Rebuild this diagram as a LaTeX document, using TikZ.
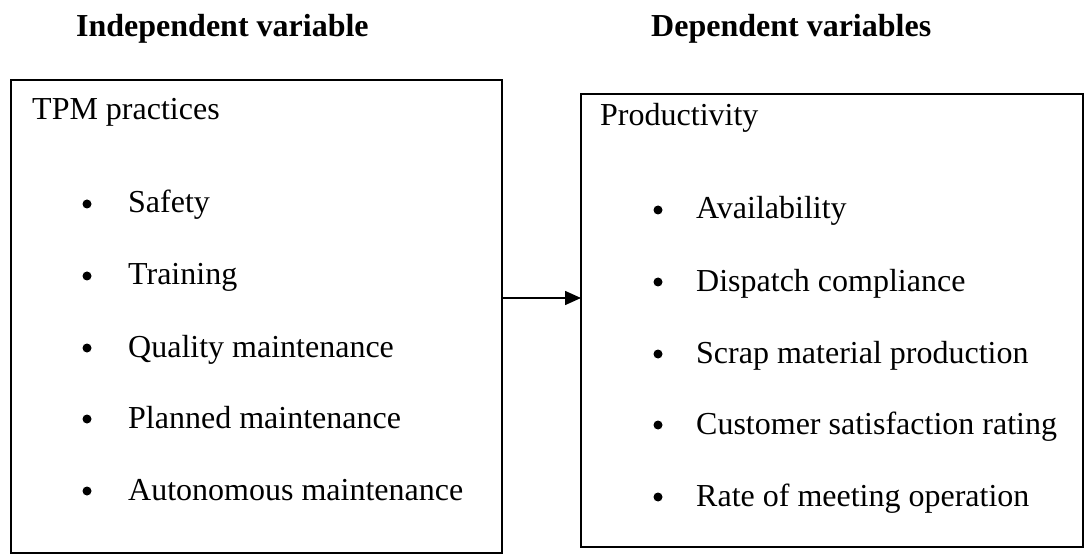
\documentclass[tikz,border=0pt]{standalone}
\usepackage{fontspec}
\setmainfont{Liberation Serif}
\usetikzlibrary{arrows.meta}
\begin{document}
\begin{tikzpicture}[x=1pt,y=-1pt,
  txt/.style={anchor=base west,inner sep=0pt,font=\fontsize{32}{38}\selectfont},
  head/.style={anchor=base west,inner sep=0pt,font=\fontsize{32}{38}\selectfont\bfseries},
  bul/.style={circle,fill=black,inner sep=0pt,minimum size=9pt},
  frame/.style={draw=black,line width=1.8pt}]
\useasboundingbox (0,0) rectangle (1085,556);
% headings
\node[head] (h1) at (76,37) {Independent variable};
\node[head] (h2) at (651,37) {Dependent variables};
% boxes
\draw[frame] (11,80) rectangle (502,553);
\draw[frame] (581,94) rectangle (1083,547);
\coordinate (L) at (502,298);
\coordinate (R) at (581,298);
\draw[line width=1.6pt,-{Triangle[length=16pt,width=14pt]}] (L) -- (R);
% left content
\node[txt] (tpm) at (32,120) {TPM practices};
\foreach \y/\t [count=\i] in {213/Safety,285/Training,357/Quality maintenance,428/Planned maintenance,500/Autonomous maintenance}{
  \node[bul] (lb\i) at (87,\y-9) {};
  \node[txt] (lt\i) at (128,\y) {\t};
}
% right content
\node[txt] (prod) at (600,126) {Productivity};
\foreach \y/\t [count=\i] in {219/Availability,291/Dispatch compliance,363/Scrap material production,434/Customer satisfaction rating,506/Rate of meeting operation}{
  \node[bul] (rb\i) at (658,\y-9) {};
  \node[txt] (rt\i) at (696,\y) {\t};
}
\end{tikzpicture}
\end{document}
